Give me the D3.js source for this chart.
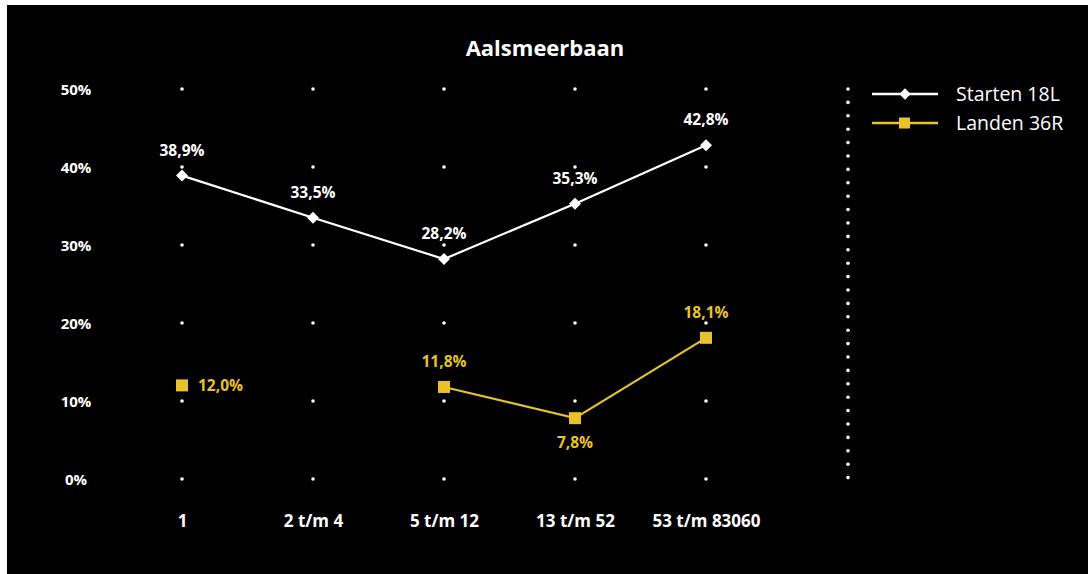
<!DOCTYPE html>
<html><head><meta charset="utf-8">
<script src="https://cdn.jsdelivr.net/npm/d3@7"></script>
<style>
html,body{margin:0;padding:0;background:#fff;}
svg{display:block;font-family:"Open Sans",sans-serif;}
</style></head><body>
<svg id="c" width="1088" height="574"></svg>
<script>
const categories = ["1","2 t/m 4","5 t/m 12","13 t/m 52","53 t/m 83060"];
const starten = [38.9, 33.5, 28.2, 35.3, 42.8];
const landen = [12.0, null, 11.8, 7.8, 18.1];
const yTicks = [0,10,20,30,40,50];
const seriesNames = ["Starten 18L","Landen 36R"];
const colors = ["#ffffff","#e8c12c"];
const landenLabelPos = ["right", null, "above", "below", "above"];

const svg = d3.select("#c");
svg.append("rect").attr("x",7).attr("y",5).attr("width",1081).attr("height",569).attr("fill","#000");

const x = d3.scalePoint().domain(categories).range([182,706]);
const y = d3.scaleLinear().domain([0,50]).range([479,89]);

svg.append("text").attr("x",545).attr("y",56).attr("text-anchor","middle")
  .attr("fill","#fff").attr("font-size",22).attr("font-weight","bold").text("Aalsmeerbaan");

// grid dots
categories.forEach(c=>{
  yTicks.forEach(t=>{
    svg.append("circle").attr("cx",x(c)).attr("cy",y(t)).attr("r",1.8).attr("fill","#fff");
  });
});
// separator dotted line
const sepDots = d3.range(0,30).map(i=>89+i*13.4);
sepDots.forEach(v=>svg.append("circle").attr("cx",848).attr("cy",v).attr("r",1.8).attr("fill","#fff"));

// y axis labels
const yAxis = d3.axisLeft(y).tickValues(yTicks).tickFormat(d=>d+"%").tickSize(0);
const ya = svg.append("g").attr("transform","translate(76,0)").call(yAxis);
ya.select(".domain").remove();
ya.selectAll("text").attr("fill","#fff").attr("font-size",15).attr("font-weight","bold")
  .attr("text-anchor","middle").attr("x",0).attr("dy","0.35em").attr("font-family","'Open Sans',sans-serif");

// x axis labels
const xAxis = d3.axisBottom(x).tickSize(0);
const xa = svg.append("g").attr("transform","translate(0,512)").call(xAxis);
xa.select(".domain").remove();
xa.selectAll("text").attr("fill","#fff").attr("font-size",17).attr("font-weight","bold").attr("font-family","'Open Sans',sans-serif");

// lines
const line = d3.line().defined(d=>d.v!=null).x(d=>x(d.c)).y(d=>y(d.v));
const sData = starten.map((v,i)=>({c:categories[i],v}));
const lData = landen.map((v,i)=>({c:categories[i],v}));
svg.append("path").datum(sData).attr("d",line).attr("fill","none").attr("stroke",colors[0]).attr("stroke-width",2.2);
svg.append("path").datum(lData).attr("d",line).attr("fill","none").attr("stroke",colors[1]).attr("stroke-width",2.2);

const diamond = d3.symbol().type(d3.symbolSquare).size(72);
svg.selectAll(".dm").data(sData).enter().append("path")
  .attr("d",diamond).attr("transform",d=>`translate(${x(d.c)},${y(d.v)}) rotate(45)`).attr("fill","#fff");
svg.selectAll(".sq").data(lData.filter(d=>d.v!=null)).enter().append("rect")
  .attr("x",d=>x(d.c)-6).attr("y",d=>y(d.v)-6).attr("width",12).attr("height",12).attr("fill",colors[1]);

const fmt = v=>v.toFixed(1).replace(".",",")+"%";
svg.selectAll(".sl").data(sData).enter().append("text")
  .attr("x",d=>x(d.c)).attr("y",d=>y(d.v)-20).attr("text-anchor","middle")
  .attr("fill","#fff").attr("font-size",15.5).attr("font-weight","bold").text(d=>fmt(d.v));
lData.forEach((d,i)=>{
  if(d.v==null) return;
  const p = landenLabelPos[i];
  const t = svg.append("text").attr("fill",colors[1]).attr("font-size",15.5).attr("font-weight","bold").text(fmt(d.v));
  if(p==="right") t.attr("x",x(d.c)+16).attr("y",y(d.v)+5.5).attr("text-anchor","start");
  else if(p==="above") t.attr("x",x(d.c)).attr("y",y(d.v)-20).attr("text-anchor","middle");
  else t.attr("x",x(d.c)).attr("y",y(d.v)+30).attr("text-anchor","middle");
});

// legend
seriesNames.forEach((n,i)=>{
  const ly = 94 + i*29;
  svg.append("line").attr("x1",872).attr("x2",938).attr("y1",ly).attr("y2",ly).attr("stroke",colors[i]).attr("stroke-width",2.5);
  if(i===0) svg.append("path").attr("d",d3.symbol().type(d3.symbolSquare).size(64)()).attr("transform",`translate(905,${ly}) rotate(45)`).attr("fill","#fff");
  else svg.append("rect").attr("x",899).attr("y",ly-5.5).attr("width",11).attr("height",11).attr("fill",colors[1]);
  svg.append("text").attr("x",956).attr("y",ly).attr("dy","0.35em").attr("fill","#fff").attr("font-size",19.5).text(n);
});
</script></body></html>
